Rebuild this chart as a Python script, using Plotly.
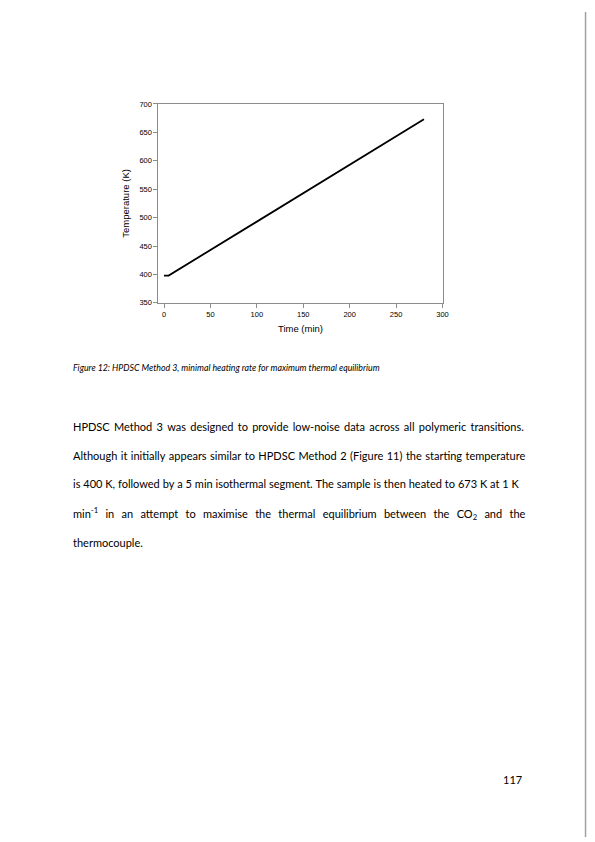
import math
import plotly.graph_objects as go

# Temperature program
time_min = [0, 5, 280]
temp_k = [398, 398, 673]

x_ticks = [0, 50, 100, 150, 200, 250, 300]
y_ticks = [350, 400, 450, 500, 550, 600, 650, 700]

caption = "Figure 12: HPDSC Method 3, minimal heating rate for maximum thermal equilibrium"
body_lines = [
    "HPDSC Method 3 was designed to provide low-noise data across all polymeric transitions.",
    "Although it initially appears similar to HPDSC Method 2 (Figure 11) the starting temperature",
    "is 400 K, followed by a 5 min isothermal segment. The sample is then heated to 673 K at 1 K",
    "min<sup>-1</sup> in an attempt to maximise the thermal equilibrium between the CO<sub>2</sub> and the",
    "thermocouple.",
]
# extra space (px) to add to each line so it fills the justified width
line_extra = [17, 8, 1, 57, 0]
page_number = "117"

# the page body has an 8px margin, so the figure sits 8px in from the top-left
OFF = 8
W, H = 595 - OFF, 842 - OFF


def px(x):
    return (x - OFF) / W


def py(y):
    return 1 - (y - OFF) / H


TEXT_SIZE = 11
SPACE_EM = 0.25  # rough width of a space in Lato


def justify(line, extra):
    words = line.split(" ")
    gaps = len(words) - 1
    if gaps == 0 or extra <= 0:
        return line
    gap = SPACE_EM * TEXT_SIZE + extra / gaps
    k = math.ceil(gap / (SPACE_EM * TEXT_SIZE))
    size = gap / (SPACE_EM * k)
    sep = '<span style="font-size:%.2fpx">%s</span>' % (size, "\u00a0" * k)
    return sep.join(words)


fig = go.Figure()
fig.add_trace(go.Scatter(
    x=time_min, y=temp_k, mode="lines",
    line=dict(color="black", width=1.8),
    showlegend=False, hoverinfo="skip",
))

chart_font = "Liberation Sans, Arial, sans-serif"
axis_common = dict(
    showgrid=False, zeroline=False,
    showline=True, linecolor="#8c8c8c", linewidth=1, mirror=True,
    ticks="outside", ticklen=4, tickcolor="#8c8c8c", tickwidth=1,
    tickfont=dict(family=chart_font, size=7.5, color="black"),
)

fig.update_xaxes(
    range=[-6, 300], tickvals=x_ticks, domain=[px(160), px(447)],
    title=dict(text="Time (min)", font=dict(family=chart_font, size=9.5, color="black"), standoff=7),
    **axis_common,
)
fig.update_yaxes(
    range=[350, 700], tickvals=y_ticks, domain=[py(302), py(101)],
    title=dict(text="Temperature (K)", font=dict(family=chart_font, size=9.5, color="black"), standoff=8),
    **axis_common,
)

text_font = "Lato, Noto Sans, sans-serif"
annotations = [
    dict(text="<i>" + caption + "</i>", x=px(72), y=py(367), xanchor="left", yanchor="middle",
         font=dict(family=text_font, size=8.8, color="black")),
    dict(text=page_number, x=px(506), y=py(784), xanchor="left", yanchor="middle",
         font=dict(family=text_font, size=TEXT_SIZE, color="black")),
]
line_y = [427, 456, 485, 515, 544]
for txt, extra, yy in zip(body_lines, line_extra, line_y):
    annotations.append(dict(text=justify(txt, extra), x=px(72), y=py(yy), xanchor="left", yanchor="middle",
                            font=dict(family=text_font, size=TEXT_SIZE, color="black")))
for a in annotations:
    a.update(xref="paper", yref="paper", showarrow=False)

fig.update_layout(
    width=W, height=H,
    margin=dict(l=0, r=0, t=0, b=0),
    paper_bgcolor="white", plot_bgcolor="white",
    annotations=annotations,
    shapes=[dict(type="line", xref="paper", yref="paper", x0=px(591.5), x1=px(591.5), y0=0, y1=1,
                 line=dict(color="#a0a0a0", width=1.5))],
)

fig.write_html("out.html")
